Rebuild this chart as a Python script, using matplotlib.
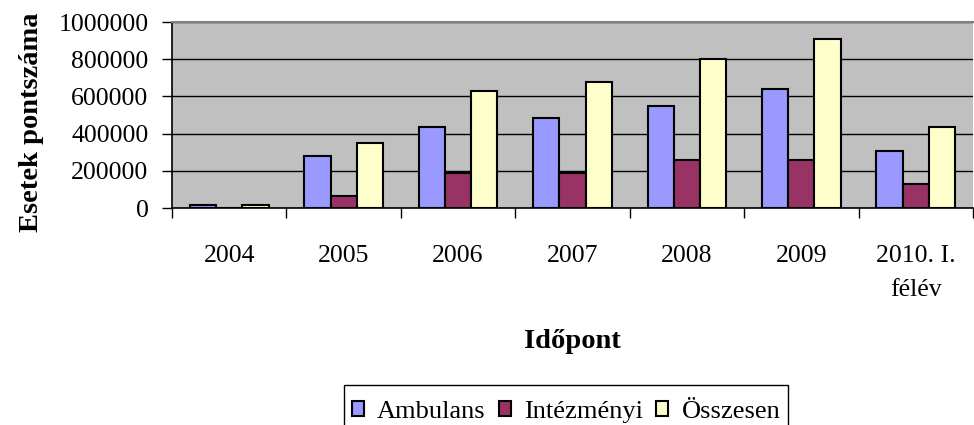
import numpy as np
import matplotlib
matplotlib.use("Agg")
import matplotlib.pyplot as plt
from matplotlib.patches import Rectangle

plt.rcParams['font.family'] = ['Liberation Serif', 'DejaVu Serif']

categories = ["2004", "2005", "2006", "2007", "2008", "2009", "2010. I.\nfélév"]
series_names = ["Ambulans", "Intézményi", "Összesen"]
ambulans = [16000, 277000, 437000, 485000, 550000, 638000, 308000]
intezmenyi = [0, 66000, 190000, 190000, 258000, 258000, 127000]
osszesen = [16000, 349000, 629000, 679000, 799000, 910000, 437000]
yticks = [0, 200000, 400000, 600000, 800000, 1000000]

colors = ["#9999ff", "#993366", "#ffffcc"]

fig = plt.figure(figsize=(9.74, 4.25), dpi=100)
ax = fig.add_axes([172 / 974, 1 - 208 / 425, 801 / 974, 186 / 425])
ax.set_facecolor("#c0c0c0")

x = np.arange(len(categories))
w = 0.229
for i, (vals, name) in enumerate(zip([ambulans, intezmenyi, osszesen], series_names)):
    ax.bar(x + (i - 1) * w, vals, width=w, color=colors[i], edgecolor="black",
           linewidth=1.5, label=name, zorder=3)

ax.set_xlim(-0.5, len(categories) - 0.5)
ax.set_ylim(0, 1000000)
ax.set_yticks(yticks, [str(v) for v in yticks], fontsize=18.5)
ax.yaxis.grid(True, color="black", linewidth=1.0, zorder=1)
ax.set_axisbelow(True)

ax.set_xticks(x, categories, fontsize=18.5, linespacing=1.65)
ax.set_xticks(np.arange(-0.5, len(categories)), minor=True)
ax.tick_params(axis="x", which="major", length=0, pad=27)
ax.tick_params(axis="x", which="minor", length=7, width=1, color="black", direction="out")
ax.tick_params(axis="y", length=7, width=1, direction="out", pad=10)

for s in ["left", "bottom"]:
    ax.spines[s].set_color("black")
    ax.spines[s].set_linewidth(1.2)
ax.spines["top"].set_color("#808080")
ax.spines["top"].set_linewidth(1.5)
ax.spines["right"].set_visible(False)

fig.text(32 / 974, 1 - 122 / 425, "Esetek pontszáma", rotation=90, ha="center",
         va="center", fontsize=20.5, fontweight="bold")
fig.text(572.6 / 974, 1 - 342 / 425, "Időpont", ha="center", va="center",
         fontsize=20.5, fontweight="bold")

# legend box runs off the bottom of the figure, as in the original
fig.patches.append(Rectangle((344 / 974, -0.05), 444 / 974, 1 - 385 / 425 + 0.05,
                             transform=fig.transFigure, facecolor="white",
                             edgecolor="black", linewidth=1.0))
leg = fig.legend(loc="center", bbox_to_anchor=(566 / 974, 1 - 412 / 425), ncol=3,
                 fontsize=19, frameon=False,
                 handlelength=0.46, handleheight=0.46, handletextpad=0.5,
                 columnspacing=0.5, borderpad=0.0, borderaxespad=0)
for h in leg.legend_handles:
    h.set_linewidth(1.5)

fig.savefig("out.png", dpi=100)
